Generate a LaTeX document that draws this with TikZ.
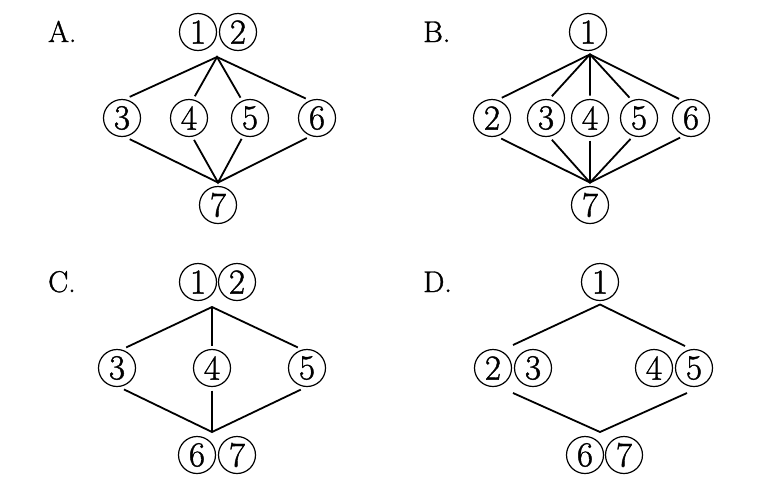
\documentclass[tikz,border=0pt]{standalone}
\usepackage{fontspec}
\setmainfont{Latin Modern Roman}[FakeBold=1.2]
\begin{document}
\begin{tikzpicture}[x=1pt,y=-1pt,
  cn/.style={circle,draw,line width=1.2pt,minimum size=37pt,inner sep=0pt,outer sep=4pt,font=\fontsize{35}{35}\selectfont},
  lbl/.style={anchor=base west,inner sep=0pt,font=\fontsize{30}{30}\selectfont},
  edge/.style={line width=1.8pt}]
\useasboundingbox[fill=white] (0,0) rectangle (765,493);
% ---------- A ----------
\node[lbl] (la) at (48,42) {A.};
\node[cn] (a1) at (198,32) {1};
\node[cn] (a2) at (238,32) {2};
\node[cn] (a3) at (122,118) {3};
\node[cn] (a4) at (189,118) {4};
\node[cn] (a5) at (250,118) {5};
\node[cn] (a6) at (317,118) {6};
\node[cn] (a7) at (218,205) {7};
\coordinate (at) at (217,57);
\draw[edge] (a3.70) -- (at) -- (a6.120);
\draw[edge] (a4.75) -- (at) -- (a5.115);
\draw[edge] (a3.-70) -- (a7.90) -- (a6.-117);
\draw[edge] (a4.-77) -- (a7.90) -- (a5.-112);
% ---------- B ----------
\node[lbl] (lb) at (423,42) {B.};
\node[cn] (b1) at (588,32) {1};
\node[cn] (b2) at (492,118) {2};
\node[cn] (b3) at (546,118) {3};
\node[cn] (b4) at (590,118) {4};
\node[cn] (b5) at (639,118) {5};
\node[cn] (b6) at (691,118) {6};
\node[cn] (b7) at (590,205) {7};
\draw[edge] (b2.64) -- (b1.-85) -- (b6.122);
\draw[edge] (b3.75) -- (b1.-85) -- (b5.115);
\draw[edge] (b4.90) -- (b1.-85);
\draw[edge] (b2.-66) -- (b7.90) -- (b6.-119);
\draw[edge] (b3.-75) -- (b7.90) -- (b5.-112);
\draw[edge] (b4.-90) -- (b7.90);
% ---------- C ----------
\node[lbl] (lc) at (48,292) {C.};
\node[cn] (c1) at (198,282) {1};
\node[cn] (c2) at (237,282) {2};
\node[cn] (c3) at (117,368) {3};
\node[cn] (c4) at (212,368) {4};
\node[cn] (c5) at (307,368) {5};
\node[cn] (c6) at (197,455) {6};
\node[cn] (c7) at (237,455) {7};
\coordinate (ct) at (212,307);
\coordinate (cb) at (212,432);
\draw[edge] (c3.66) -- (ct) -- (c5.114);
\draw[edge] (c4.90) -- (ct);
\draw[edge] (c3.-72) -- (cb) -- (c5.-106);
\draw[edge] (c4.-90) -- (cb);
% ---------- D ----------
\node[lbl] (ld) at (423,292) {D.};
\node[cn] (d1) at (600,282) {1};
\node[cn] (d2) at (493,368) {2};
\node[cn] (d3) at (533,368) {3};
\node[cn] (d4) at (654,368) {4};
\node[cn] (d5) at (694,368) {5};
\node[cn] (d6) at (585,455) {6};
\node[cn] (d7) at (624,455) {7};
\coordinate (dl) at (513,345);
\coordinate (dr) at (685,346);
\coordinate (dlb) at (513,393);
\coordinate (drb) at (687,393);
\coordinate (db) at (600,432);
\draw[edge] (dl) -- (d1.-90) -- (dr);
\draw[edge] (dlb) -- (db) -- (drb);
\end{tikzpicture}
\end{document}
